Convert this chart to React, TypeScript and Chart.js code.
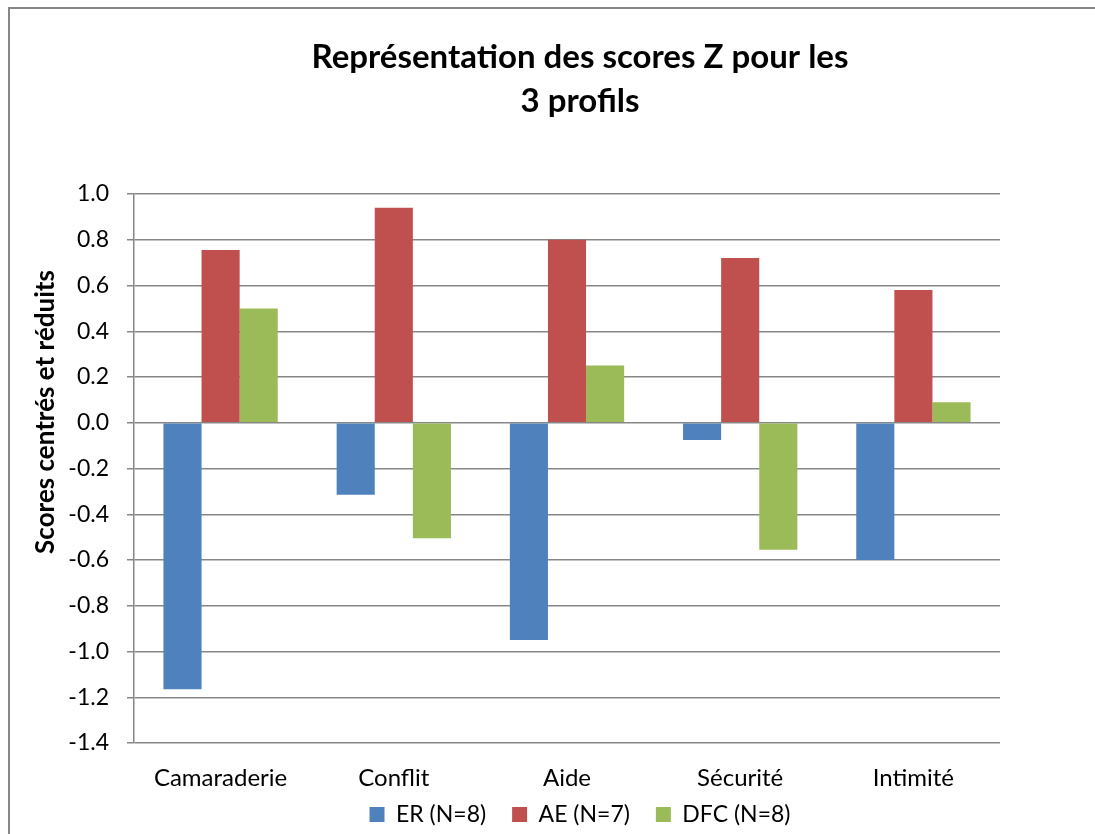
import React, { useEffect, useRef } from "react";
import { Chart, registerables } from "chart.js";

Chart.register(...registerables);

const categories = ["Camaraderie", "Conflit", "Aide", "Sécurité", "Intimité"];
const seriesLabels = ["ER (N=8)", "AE (N=7)", "DFC (N=8)"];
const erValues = [-1.165, -0.315, -0.95, -0.075, -0.6];
const aeValues = [0.755, 0.94, 0.8, 0.72, 0.58];
const dfcValues = [0.5, -0.505, 0.25, -0.555, 0.09];
const seriesColors = ["#4F81BD", "#C0504D", "#9BBB59"];
const titleLines = ["Représentation des scores Z pour les", "3 profils"];
const yAxisTitle = "Scores centrés et réduits";
const yMin = -1.4;
const yMax = 1.0;
const yStep = 0.2;

const FONT = "Lato, 'Open Sans', sans-serif";
const GRID = "#878787";

const yTitlePlugin = {
  id: "yTitlePlugin",
  afterDraw(chart: any) {
    const ctx = chart.ctx;
    ctx.save();
    ctx.translate(36, 403);
    ctx.rotate(-Math.PI / 2);
    ctx.font = `bold 26px ${FONT}`;
    ctx.fillStyle = "#000";
    ctx.textAlign = "center";
    ctx.textBaseline = "middle";
    ctx.fillText(yAxisTitle, 0, 0);
    ctx.restore();
  },
};

export default function App() {
  const ref = useRef<HTMLCanvasElement | null>(null);
  useEffect(() => {
    if (!ref.current) return;
    const data = [erValues, aeValues, dfcValues];
    const chart = new Chart(ref.current, {
      type: "bar",
      data: {
        labels: categories,
        datasets: data.map((vals, i) => ({
          label: seriesLabels[i],
          data: vals,
          backgroundColor: seriesColors[i],
          borderWidth: 0,
          categoryPercentage: 0.66,
          barPercentage: 1.0,
          yAxisID: "y",
        })),
      },
      options: {
        responsive: false,
        animation: false,
        layout: { padding: { left: 0, right: 0, top: 0, bottom: 3 } },
        plugins: {
          tooltip: { enabled: false },
          title: {
            display: true,
            text: titleLines,
            color: "#000",
            font: { family: FONT, size: 33, weight: "bold", lineHeight: 44 / 33 },
            padding: { top: 26, bottom: 71 },
          },
          legend: {
            display: true,
            position: "bottom",
            labels: {
              color: "#000",
              font: { family: FONT, size: 23 },
              boxWidth: 15,
              boxHeight: 15,
              padding: 26,
            },
          },
        },
        scales: {
          x: {
            grid: { display: false, drawTicks: false, tickLength: 0 },
            border: { display: false },
            ticks: {
              color: "#000",
              font: { family: FONT, size: 24 },
              mirror: true,
              padding: -49.5,
              maxRotation: 0,
              autoSkip: false,
            },
            afterFit(s: any) {
              s.height = 34;
            },
          },
          y: {
            min: yMin,
            max: yMax,
            position: "left",
            grid: { color: GRID, lineWidth: 1.5, tickLength: 7 },
            border: { display: true, color: GRID, width: 1.5 },
            ticks: {
              stepSize: yStep,
              color: "#000",
              font: { family: FONT, size: 23 },
              padding: 18,
              callback: (v: any) => (Math.abs(Number(v)) < 1e-9 ? "0.0" : Number(v).toFixed(1)),
            },
            afterFit(s: any) {
              s.width = 124;
            },
          },
          yPad: {
            type: "linear",
            position: "right",
            display: true,
            grid: { display: false, drawTicks: false },
            border: { display: false },
            ticks: { display: false },
            afterFit(s: any) {
              s.width = 150;
            },
          },
        },
      } as any,
      plugins: [yTitlePlugin],
    });
    return () => chart.destroy();
  }, []);

  return (
    <div
      style={{
        position: "fixed",
        left: 8,
        top: 7,
        width: 1087,
        height: 827,
        borderLeft: "2px solid #878787",
        borderTop: "2px solid #878787",
        overflow: "hidden",
        background: "#fff",
        boxSizing: "border-box",
      }}
    >
      <canvas ref={ref} width={1140} height={830} style={{ display: "block" }} />
    </div>
  );
}
